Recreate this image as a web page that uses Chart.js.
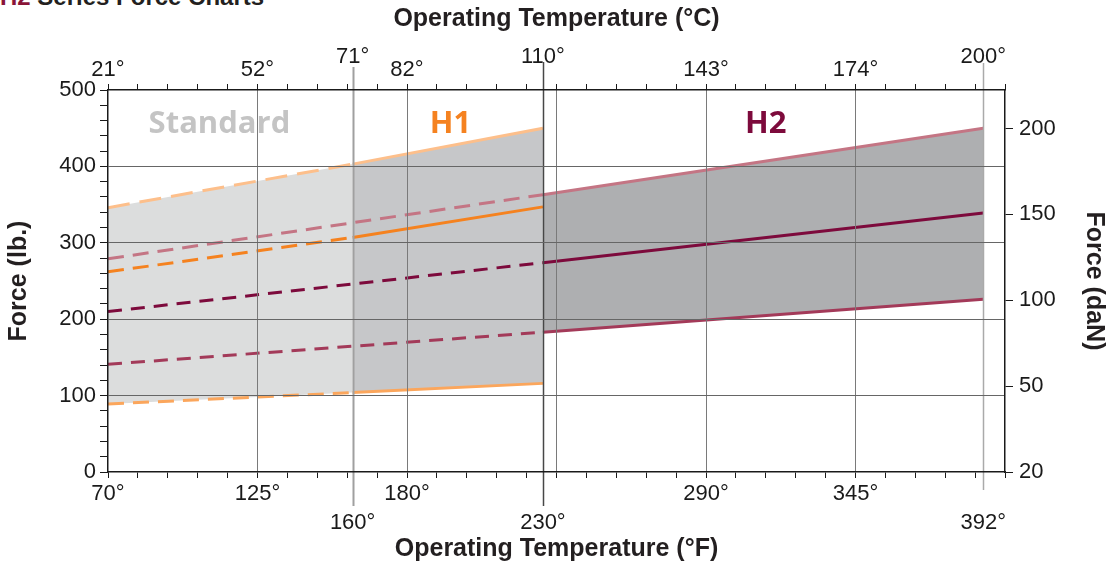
<!DOCTYPE html>
<html>
<head>
<meta charset="utf-8">
<script src="https://cdn.jsdelivr.net/npm/chart.js@4.4.1/dist/chart.umd.min.js"></script>
<style>
  html, body { margin: 0; background: #fff; }
  #wrap { position: relative; width: 1112px; height: 567px; overflow: hidden; }
  #head { position: absolute; left: 0; top: -17px; font: bold 24px "Liberation Sans", Arial, sans-serif; color: #231f20; white-space: nowrap; }
  #head span { color: #8a1538; }
  canvas { position: absolute; left: 0; top: 0; }
</style>
</head>
<body>
<div id="wrap">
  <div id="head"><span>H2</span> Series Force Charts</div>
  <canvas id="chart" width="1112" height="567"></canvas>
</div>
<script>
'use strict';

// H1 / Standard curves, read at these temperatures (°F)
const h1Temps = [70, 160, 230];
const h1High = [346, 403, 450];
const h1Mid = [262, 307, 347];
const h1Low = [89, 104, 116];

// H2 curves
const h2Temps = [70, 230, 392];
const h2High = [279, 363, 450];
const h2Mid = [210, 274, 339];
const h2Low = [141, 183, 226];

// axis ticks
const fLabels = [70, 125, 180, 290, 345];            // °F, first row
const fLabelsLow = [160, 230, 392];                  // °F, second row (marked lines)
const cLabels = ['21°', '52°', '82°', '143°', '174°'];   // °C at fLabels
const cLabelsHigh = ['71°', '110°', '200°'];             // °C at fLabelsLow
const fGrid = [125, 180, 235, 290, 345];
const lbLabels = [100, 200, 300, 400, 500, 0];
const danLabels = [20, 50, 100, 150, 200];
const danAtLb = [0, 112.4, 224.8, 337.2, 449.6];

const FONT = '"Liberation Sans", Arial, sans-serif';
const INK = '#1a1a1a';

function fTicks() {
  const v = [];
  for (let t = 70; t <= 400; t += 11) v.push(t);
  return [...new Set(v.concat(fLabelsLow))].sort((a, b) => a - b).map((value) => ({ value }));
}

function lbTicks() {
  const v = [];
  for (let t = 0; t <= 500; t += 20) v.push({ value: t });
  return v;
}

const pts = (xs, ys) => xs.map((x, i) => ({ x, y: ys[i] }));
const dashUntil = (limit, dash) => (c) => (c.p1.parsed.x <= limit ? dash : []);

const titleFont = { family: FONT, size: 25, weight: 'bold' };
const tickFont = { family: FONT, size: 22 };

const markedLines = {
  id: 'markedLines',
  afterDatasetsDraw(chart) {
    const { ctx, scales: { x }, chartArea: a } = chart;
    const look = [
      ['#a0a0a0', 2, 23, 34],
      ['#474747', 1.5, 28, 34],
      ['#aaaaaa', 1.5, 27, 18],
    ];
    ctx.save();
    fLabelsLow.forEach((t, i) => {
      const px = Math.round(x.getPixelForValue(t)) + 0.5;
      ctx.strokeStyle = look[i][0];
      ctx.lineWidth = look[i][1];
      ctx.beginPath();
      ctx.moveTo(px, a.top - look[i][2]);
      ctx.lineTo(px, a.bottom + look[i][3]);
      ctx.stroke();
    });
    ctx.restore();
  },
  afterDraw(chart) {
    const { ctx, scales: { x, y } } = chart;
    const names = [['Standard', '#c4c4c4', 111], ['H1', '#f58220', 196], ['H2', '#7d0a3c', 312]];
    ctx.save();
    ctx.font = 'bold 31px "Open Sans", "Noto Sans", sans-serif';
    ctx.textAlign = 'center';
    ctx.textBaseline = 'middle';
    names.forEach(([txt, col, at]) => {
      ctx.fillStyle = col;
      ctx.fillText(txt, x.getPixelForValue(at), y.getPixelForValue(455));
    });
    ctx.restore();
  },
};

new Chart(document.getElementById('chart'), {
  type: 'line',
  data: {
    datasets: [
      {
        label: 'H1 high',
        data: pts(h1Temps, h1High),
        borderColor: '#fdbf8b',
        fill: 2,
        segment: {
          borderDash: dashUntil(160, [22, 10]),
          backgroundColor: (c) => (c.p1.parsed.x <= 160 ? '#dcdddd' : '#c6c7c9'),
        },
      },
      {
        label: 'H1 mid',
        data: pts(h1Temps, h1Mid),
        borderColor: '#f5821f',
        segment: { borderDash: dashUntil(160, [16, 9]) },
      },
      {
        label: 'H1 low',
        data: pts(h1Temps, h1Low),
        borderColor: '#fba65c',
        segment: { borderDash: dashUntil(160, [16, 9]) },
      },
      {
        label: 'H2 high',
        data: pts(h2Temps, h2High),
        borderColor: '#c47584',
        fill: 5,
        segment: {
          borderDash: dashUntil(230, [16, 9]),
          backgroundColor: (c) => (c.p1.parsed.x <= 230 ? 'rgba(0,0,0,0)' : '#aeafb1'),
        },
      },
      {
        label: 'H2 mid',
        data: pts(h2Temps, h2Mid),
        borderColor: '#7d0a3c',
        segment: { borderDash: dashUntil(230, [14, 9]) },
      },
      {
        label: 'H2 low',
        data: pts(h2Temps, h2Low),
        borderColor: '#a33a59',
        segment: { borderDash: dashUntil(230, [14, 9]) },
      },
    ],
  },
  options: {
    responsive: false,
    animation: false,
    layout: { padding: 0 },
    elements: {
      line: { borderWidth: 3, tension: 0, borderCapStyle: 'butt' },
      point: { radius: 0, hoverRadius: 0 },
    },
    plugins: {
      legend: { display: false },
      tooltip: { enabled: false },
      filler: { drawTime: 'beforeDatasetsDraw' },
    },
    scales: {
      x: {
        type: 'linear',
        position: 'bottom',
        min: 70,
        max: 400,
        afterBuildTicks: (s) => { s.ticks = fTicks(); },
        afterFit: (s) => { s.height = 95; },
        ticks: {
          autoSkip: false,
          maxRotation: 0,
          padding: 2,
          color: INK,
          font: { ...tickFont, lineHeight: 1.3 },
          callback: (v) => {
            const i = fLabels.indexOf(v);
            if (i >= 0) return [v + '°', ''];
            const j = fLabelsLow.indexOf(v);
            if (j >= 0) return ['', v + '°'];
            return '';
          },
        },
        grid: {
          z: 1,
          tickLength: 6,
          lineWidth: 1,
          color: (c) => (c.tick && fGrid.includes(c.tick.value) ? '#7a7a7a' : 'rgba(0,0,0,0)'),
          tickColor: (c) => (c.tick && fLabelsLow.includes(c.tick.value) ? 'rgba(0,0,0,0)' : INK),
        },
        border: { z: 1, color: INK, width: 1.5 },
        title: { display: true, text: 'Operating Temperature (°F)', font: titleFont, color: '#231f20', padding: { top: 0, bottom: 3 } },
      },
      x2: {
        type: 'linear',
        position: 'top',
        min: 70,
        max: 400,
        afterBuildTicks: (s) => { s.ticks = fTicks(); },
        afterFit: (s) => { s.height = 90; },
        ticks: {
          autoSkip: false,
          maxRotation: 0,
          padding: 7,
          color: INK,
          font: { ...tickFont, lineHeight: 0.6 },
          callback: (v) => {
            const i = fLabels.indexOf(v);
            if (i >= 0) return ['', cLabels[i]];
            const j = fLabelsLow.indexOf(v);
            if (j >= 0) return [cLabelsHigh[j], ''];
            return '';
          },
        },
        grid: {
          drawOnChartArea: false,
          tickLength: 6,
          tickColor: (c) => (c.tick && fLabelsLow.includes(c.tick.value) ? 'rgba(0,0,0,0)' : INK),
        },
        border: { z: 1, color: INK, width: 1.5 },
        title: { display: true, text: 'Operating Temperature (°C)', font: titleFont, color: '#231f20', padding: { top: 4, bottom: 0 } },
      },
      y: {
        position: 'left',
        min: 0,
        max: 500,
        afterBuildTicks: (s) => { s.ticks = lbTicks(); },
        afterFit: (s) => { s.width = 108; },
        ticks: {
          autoSkip: false,
          padding: 4,
          color: INK,
          font: tickFont,
          callback: (v) => (lbLabels.includes(v) ? String(v) : ''),
        },
        grid: {
          z: 1,
          tickLength: 8,
          lineWidth: 1,
          color: (c) => (c.tick && c.tick.value % 100 === 0 && c.tick.value > 0 && c.tick.value < 500 ? '#666666' : 'rgba(0,0,0,0)'),
          tickColor: INK,
        },
        border: { z: 1, color: INK, width: 1.5 },
        title: { display: true, text: 'Force (lb.)', font: titleFont, color: '#231f20', padding: { top: 4, bottom: 0 } },
      },
      y2: {
        position: 'right',
        min: 0,
        max: 500,
        afterBuildTicks: (s) => { s.ticks = danAtLb.map((value) => ({ value })); },
        afterFit: (s) => { s.width = 107; },
        ticks: {
          autoSkip: false,
          padding: 6,
          color: INK,
          font: tickFont,
          callback: (v, i) => String(danLabels[i]),
        },
        grid: { drawOnChartArea: false, tickLength: 8, tickColor: INK },
        border: { z: 1, color: INK, width: 1.5 },
        title: { display: true, text: 'Force (daN)', font: titleFont, color: '#231f20', padding: { top: 3, bottom: 0 } },
      },
    },
  },
  plugins: [markedLines],
});
</script>
</body>
</html>
